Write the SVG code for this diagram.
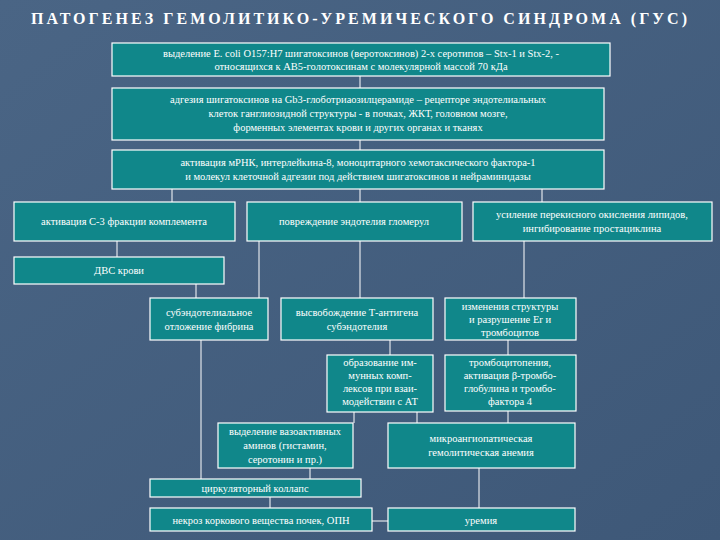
<svg xmlns="http://www.w3.org/2000/svg" width="720" height="540" viewBox="0 0 720 540">
<defs><style>
.b{fill:#10878a;stroke:#ffffff;stroke-width:1.2}
.t{font-family:"Liberation Serif",serif;font-size:10.5px;fill:#ffffff;text-anchor:middle}
.l{stroke:#ffffff;stroke-width:1;fill:none}
</style>
<linearGradient id="bg" x1="0" y1="0" x2="1" y2="1"><stop offset="0" stop-color="#4a6585"/><stop offset="1" stop-color="#3e5878"/></linearGradient></defs>
<rect width="720" height="540" fill="url(#bg)"/>
<text x="359" y="24" font-family="Liberation Serif, serif" font-size="16" font-weight="bold" fill="#ffffff" text-anchor="middle" textLength="656" lengthAdjust="spacing">ПАТОГЕНЕЗ  ГЕМОЛИТИКО-УРЕМИЧЕСКОГО  СИНДРОМА  (ГУС)</text>
<g id="connectors" class="l">
<path d="M360 76V88M360 140V150M172 189V202M360 189V202M542 189V202M117 241V257M196 284V298M259 241V298M360 241V298M524 241V298M201 340V479M390 340V355M508 340V355M354 412V423M417 412V423M508 411V423M310 468V479M270 497V508M479 468V508M372 521H388"/>
</g>
<g id="n1"><rect class="b" x="112" y="43" width="498" height="33"/><text class="t" x="361" y="57">выделение E. coli O157:H7 шигатоксинов (веротоксинов) 2-х серотипов – Stx-1 и Stx-2, -</text><text class="t" x="361" y="70">относящихся к АВ5-голотоксинам с молекулярной массой 70 кДа</text></g>
<g id="n2"><rect class="b" x="112" y="88" width="492" height="52"/><text class="t" x="358" y="103">адгезия шигатоксинов на Gb3-глоботриаозилцерамиде – рецепторе эндотелиальных</text><text class="t" x="358" y="117">клеток ганглиозидной структуры - в почках, ЖКТ, головном мозге,</text><text class="t" x="358" y="131">форменных элементах крови и других органах и тканях</text></g>
<g id="n3"><rect class="b" x="112" y="150" width="492" height="39"/><text class="t" x="358" y="166">активация мРНК, интерлейкина-8, моноцитарного хемотаксического фактора-1</text><text class="t" x="358" y="180">и молекул клеточной адгезии под действием шигатоксинов и нейраминидазы</text></g>
<g id="n4a"><rect class="b" x="14" y="202" width="221" height="39"/><text class="t" x="124" y="225">активация С-3 фракции комплемента</text></g>
<g id="n4b"><rect class="b" x="247" y="202" width="215" height="39"/><text class="t" x="354" y="225">повреждение эндотелия гломерул</text></g>
<g id="n4c"><rect class="b" x="473" y="202" width="239" height="39"/><text class="t" x="592" y="218">усиление перекисного окисления липидов,</text><text class="t" x="592" y="232">ингибирование простациклина</text></g>
<g id="n5"><rect class="b" x="14" y="257" width="210" height="27"/><text class="t" x="119" y="274">ДВС крови</text></g>
<g id="n6a"><rect class="b" x="150" y="298" width="118" height="42"/><text class="t" x="209" y="316">субэндотелиальное</text><text class="t" x="209" y="330">отложение фибрина</text></g>
<g id="n6b"><rect class="b" x="281" y="298" width="152" height="42"/><text class="t" x="357" y="316">высвобождение Т-антигена</text><text class="t" x="357" y="330">субэндотелия</text></g>
<g id="n6c"><rect class="b" x="445" y="298" width="131" height="42"/><text class="t" x="510" y="310">изменения структуры</text><text class="t" x="510" y="323">и разрушение Er и</text><text class="t" x="510" y="336">тромбоцитов</text></g>
<g id="n7a"><rect class="b" x="327" y="355" width="106" height="57"/><text class="t" x="380" y="366">образование им-</text><text class="t" x="380" y="379">мунных комп-</text><text class="t" x="380" y="392">лексов при взаи-</text><text class="t" x="380" y="405">модействии с АТ</text></g>
<g id="n7b"><rect class="b" x="445" y="355" width="131" height="56"/><text class="t" x="510" y="366">тромбоцитопения,</text><text class="t" x="510" y="379">активация β-тромбо-</text><text class="t" x="510" y="392">глобулина и тромбо-</text><text class="t" x="510" y="405">фактора 4</text></g>
<g id="n8a"><rect class="b" x="218" y="423" width="135" height="45"/><text class="t" x="285" y="435">выделение вазоактивных</text><text class="t" x="285" y="449">аминов (гистамин,</text><text class="t" x="285" y="463">серотонин и пр.)</text></g>
<g id="n8b"><rect class="b" x="388" y="423" width="187" height="45"/><text class="t" x="481" y="442">микроангиопатическая</text><text class="t" x="481" y="456">гемолитическая анемия</text></g>
<g id="n9"><rect class="b" x="150" y="479" width="211" height="18"/><text class="t" x="255" y="492">циркуляторный коллапс</text></g>
<g id="n10a"><rect class="b" x="150" y="508" width="222" height="23"/><text class="t" x="261" y="524">некроз коркового вещества почек, ОПН</text></g>
<g id="n10b"><rect class="b" x="388" y="508" width="187" height="23"/><text class="t" x="481" y="524">уремия</text></g>
</svg>
